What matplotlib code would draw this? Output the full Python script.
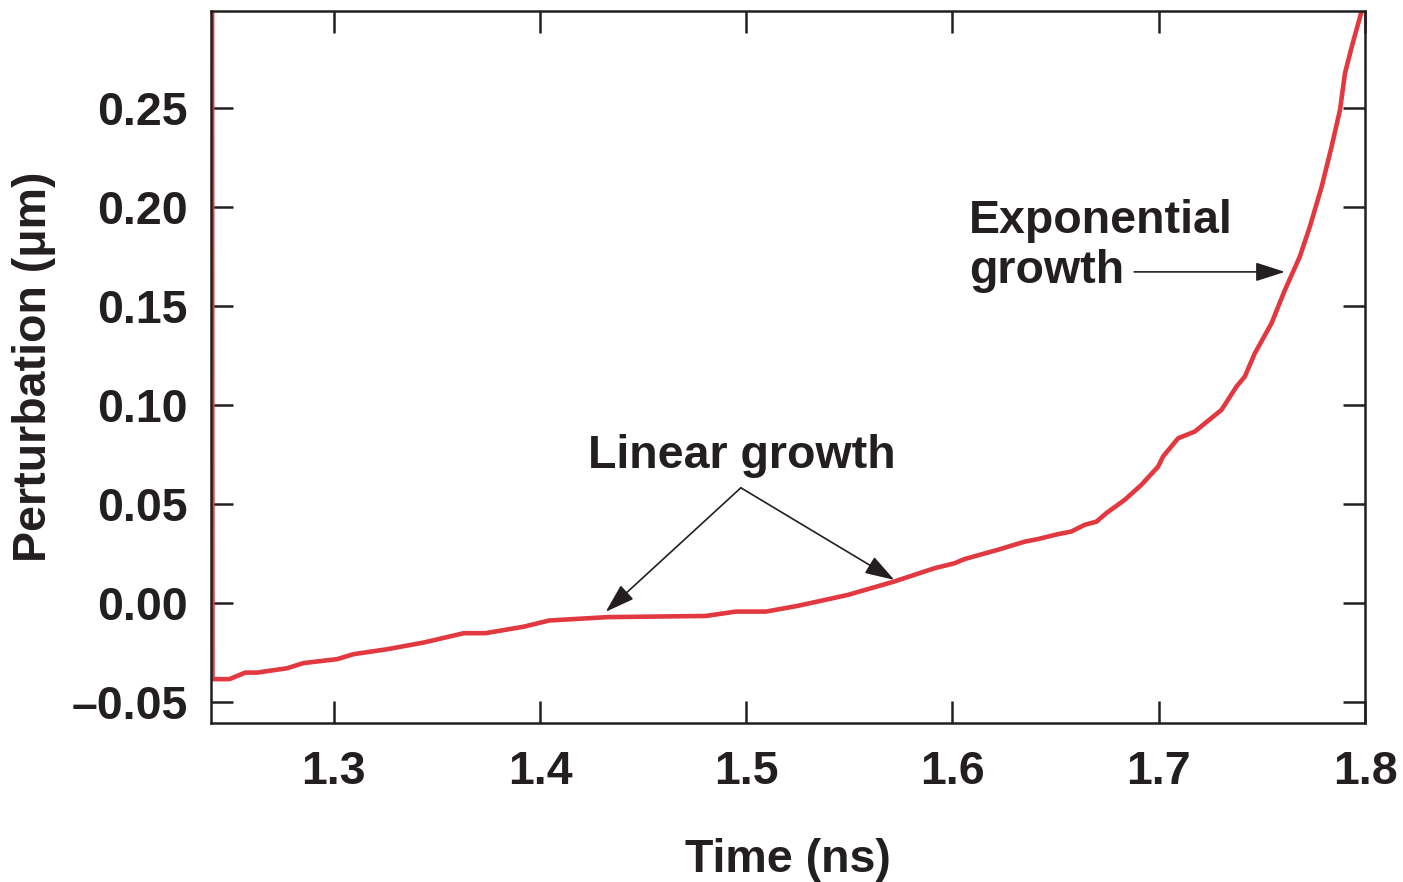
import numpy as np
import matplotlib
matplotlib.use("Agg")
import matplotlib.pyplot as plt

plt.rcParams['font.family'] = ['Liberation Sans', 'DejaVu Sans']
plt.rcParams['font.weight'] = 'bold'

# time (ns) and perturbation (um)
time_ns = [1.2410, 1.2412, 1.2494, 1.2571, 1.2628, 1.2774, 1.2853, 1.3017,
           1.3096, 1.3259, 1.3437, 1.3631, 1.3736, 1.3922, 1.4044, 1.4327,
           1.4804, 1.4950, 1.5096, 1.5250, 1.5492, 1.5718, 1.5913, 1.6010,
           1.6058, 1.6220, 1.6350, 1.6414, 1.6512, 1.6576, 1.6641, 1.6698,
           1.6746, 1.6835, 1.6916, 1.6997, 1.7021, 1.7094, 1.7175, 1.7304,
           1.7377, 1.7417, 1.7466, 1.7547, 1.7612, 1.7684, 1.7733, 1.7790,
           1.7838, 1.7879, 1.7903, 1.7936, 1.7981, 1.7995]
perturb = [0.3200, -0.0385, -0.0385, -0.0352, -0.0352, -0.0330, -0.0304, -0.0284,
           -0.0259, -0.0234, -0.0200, -0.0153, -0.0153, -0.0120, -0.0089, -0.0072,
           -0.0066, -0.0044, -0.0044, -0.0015, 0.0040, 0.0108, 0.0175, 0.0200,
           0.0221, 0.0268, 0.0309, 0.0322, 0.0347, 0.0360, 0.0394, 0.0410,
           0.0453, 0.0520, 0.0596, 0.0688, 0.0739, 0.0831, 0.0865, 0.0974,
           0.1092, 0.1142, 0.1260, 0.1412, 0.1580, 0.1748, 0.1900, 0.2101,
           0.2303, 0.2489, 0.2674, 0.2808, 0.2977, 0.3040]

xticks = [1.3, 1.4, 1.5, 1.6, 1.7, 1.8]
yticks = [-0.05, 0.00, 0.05, 0.10, 0.15, 0.20, 0.25]
ytick_labels = ['\u20130.05', '0.00', '0.05', '0.10', '0.15', '0.20', '0.25']

ink = '#231f20'
red = '#e2383f'
fs = 33.5

fig = plt.figure(figsize=(14.03, 8.82), dpi=100)
ax = fig.add_axes([0.1504, 0.1806, 0.8225, 0.8069])

ax.plot(time_ns, perturb, color=red, lw=3.3, solid_joinstyle='round', clip_on=True)

ax.set_xlim(1.2405, 1.8)
ax.set_ylim(-0.0605, 0.2988)
ax.set_xticks(xticks)
ax.set_xticklabels([f'{t:.1f}' for t in xticks])
ax.set_yticks(yticks)
ax.set_yticklabels(ytick_labels)

for s in ax.spines.values():
    s.set_linewidth(1.8)
    s.set_color(ink)
ax.tick_params(direction='in', length=16, width=1.8, color=ink,
               top=True, right=True, labelsize=fs, labelcolor=ink)
ax.tick_params(axis='x', pad=20)
ax.tick_params(axis='y', pad=17)

ax.set_xlabel('Time (ns)', fontsize=fs, fontweight='bold', color=ink, labelpad=31)
ax.set_ylabel('Perturbation (\u03bcm)', fontsize=fs, fontweight='bold', color=ink, labelpad=11)

# annotations
arrow_kw = dict(arrowstyle='-|>,head_length=1.4,head_width=0.45', color=ink,
                lw=1.2, mutation_scale=13, shrinkA=0, shrinkB=0)
apex = (1.4974, 0.0581)
ax.annotate('', xy=(1.4319, -0.0045), xytext=apex, arrowprops=arrow_kw)
ax.annotate('', xy=(1.5718, 0.0116), xytext=apex, arrowprops=arrow_kw)
ax.text(1.4978, 0.0742, 'Linear growth', fontsize=fs, fontweight='bold',
        color=ink, ha='center', va='center')

ax.text(1.6081, 0.1868, 'Exponential', fontsize=fs, fontweight='bold',
        color=ink, ha='left', va='baseline')
ax.text(1.6081, 0.1615, 'growth', fontsize=fs, fontweight='bold',
        color=ink, ha='left', va='baseline')
ax.annotate('', xy=(1.7612, 0.1671), xytext=(1.6881, 0.1671), arrowprops=arrow_kw)

fig.savefig('out.png', dpi=100)
